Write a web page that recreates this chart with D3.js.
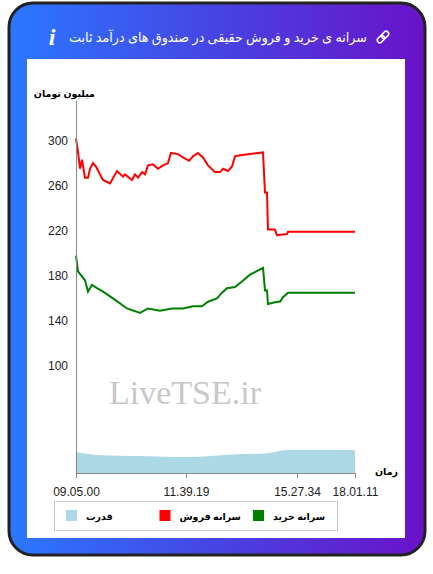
<!DOCTYPE html>
<html>
<head>
<meta charset="utf-8">
<script src="https://d3js.org/d3.v7.min.js"></script>
<style>
  body { margin:0; background:#fff; font-family:"Noto Sans","DejaVu Sans",sans-serif; }
</style>
</head>
<body>
<svg id="c" width="433" height="574"></svg>
<script>
// sample index along the trading day (0..279), values in million toman
const sellIdx = [0,2,4,6,9,12,14,17,20,27,34,41,47,49,56,59,62,66,69,72,77,82,87,92,95,102,107,113,117,122,127,132,139,144,147,152,156,159,164,174,187,189,191,192,199,201,211,212,279];
const sellVal = [302,290,275,283,267,267,275,280,277,265,262,273,268,270,265,270,267,272,270,278,279,275,278,280,289,288,285,282,286,289,285,278,272,272,275,273,277,286,287,288,289.5,254,254,221,221,216,217,219,219];
const buyIdx = [0,2,9,12,16,21,27,37,51,64,72,84,96,107,117,126,132,141,146,151,159,166,174,187,189,191,192,201,204,207,212,279];
const buyVal = [198,184,176,166,172,169,166,160,151,147,151,149,151,151,153,153,157,160,165,169,170,175,181,187,167,167,155,157,157,161,165,165];
const powerIdx = [0,21,64,97,121,154,191,211,279];
const powerVal = [23.6,21,20,19.2,19.5,21.3,22.5,25.4,25.4];
const yTicks = [100,140,180,220,260,300];
const xTickIdx = [0,110,221,279];
const xTickLabels = ["09.05.00","11.39.19","15.27.34","18.01.11"];
const legendItems = [
  {label:"قدرت", color:"#add8e6"},
  {label:"سرانه فروش", color:"#ff0000"},
  {label:"سرانه خرید", color:"#008000"}
];

const svg = d3.select("#c");
const defs = svg.append("defs");
const g = defs.append("linearGradient").attr("id","gr");
g.append("stop").attr("offset","0%").attr("stop-color","#2a78ff");
g.append("stop").attr("offset","55%").attr("stop-color","#4a3fe0");
g.append("stop").attr("offset","100%").attr("stop-color","#6a12c8");

svg.append("rect").attr("x",9).attr("y",3).attr("width",416).attr("height",552).attr("rx",24)
  .attr("fill","url(#gr)").attr("stroke","#222").attr("stroke-width",3);
svg.append("rect").attr("x",27).attr("y",59).attr("width",378).attr("height",479).attr("fill","#fff");

svg.append("text").attr("x",367).attr("y",42).attr("text-anchor","end").attr("fill","#fff")
  .attr("font-size",13.5).attr("textLength",298).attr("lengthAdjust","spacingAndGlyphs")
  .text("سرانه ی خرید و فروش حقیقی در صندوق های درآمد ثابت");
// link icon
const ic = svg.append("g").attr("transform","translate(383,37) rotate(-45)")
  .attr("fill","none").attr("stroke","#fff").attr("stroke-width",1.6);
ic.append("rect").attr("x",-7).attr("y",-2.5).attr("width",8).attr("height",5).attr("rx",2.5);
ic.append("rect").attr("x",-1).attr("y",-2.5).attr("width",8).attr("height",5).attr("rx",2.5);
svg.append("text").attr("x",52).attr("y",45).attr("text-anchor","middle").attr("fill","#fff")
  .attr("font-size",24).attr("font-style","italic").attr("font-weight","bold")
  .attr("font-family","Liberation Serif,serif").text("i");

const x = d3.scaleLinear().domain([0,279]).range([76,355]);
const y = d3.scaleLinear().domain([5,336]).range([473,100]);

svg.append("text").attr("x",185).attr("y",404).attr("text-anchor","middle")
  .attr("font-family","Liberation Serif,serif")
  .attr("font-size",34).attr("fill","#c8c8c8").text("LiveTSE.ir");

const area = d3.area().x((d,i)=>x(powerIdx[i])).y0(y(5)).y1(d=>y(d)).curve(d3.curveMonotoneX);
svg.append("path").datum(powerVal).attr("d",area).attr("fill","#add8e6");

const line = (idx) => d3.line().x((d,i)=>x(idx[i])).y(d=>y(d));
svg.append("path").datum(sellVal).attr("d",line(sellIdx)).attr("fill","none").attr("stroke","#ff0000").attr("stroke-width",2);
svg.append("path").datum(buyVal).attr("d",line(buyIdx)).attr("fill","none").attr("stroke","#008000").attr("stroke-width",2);

const ya = svg.append("g").attr("transform","translate(76,0)")
  .call(d3.axisLeft(y).tickValues(yTicks).tickSize(0).tickPadding(8));
ya.select(".domain").attr("stroke","#888");
ya.selectAll("text").attr("font-size",12).attr("fill","#222").attr("font-family","Liberation Sans,Arial,sans-serif");

const xa = svg.append("g").attr("transform","translate(0,473)")
  .call(d3.axisBottom(x).tickValues(xTickIdx).tickFormat((d,i)=>xTickLabels[i]).tickSize(5).tickSizeOuter(0).tickPadding(9));
xa.select(".domain").attr("stroke","#888");
xa.selectAll("line").attr("stroke","#888");
xa.selectAll("text").attr("font-size",12).attr("fill","#222").attr("font-family","Liberation Sans,Arial,sans-serif");

svg.append("text").attr("x",95).attr("y",97).attr("text-anchor","end").attr("font-size",9.5)
  .attr("font-weight","bold").text("میلیون تومان");
svg.append("text").attr("x",398).attr("y",475).attr("text-anchor","end").attr("font-size",9.5)
  .attr("font-weight","bold").text("زمان");

svg.append("rect").attr("x",54.5).attr("y",501.5).attr("width",283).attr("height",29)
  .attr("fill","#fff").attr("stroke","#ccc");
const lx = d3.scalePoint().domain(legendItems.map(d=>d.label)).range([66,253]);
const li = svg.selectAll(".lg").data(legendItems).enter().append("g")
  .attr("transform",d=>`translate(${lx(d.label)},510)`);
li.append("rect").attr("width",11).attr("height",11).attr("fill",d=>d.color);
li.append("text").attr("x",20).attr("y",10).attr("text-anchor","start").attr("font-size",9.5)
  .attr("font-weight","bold").text(d=>d.label);
</script>
</body>
</html>
